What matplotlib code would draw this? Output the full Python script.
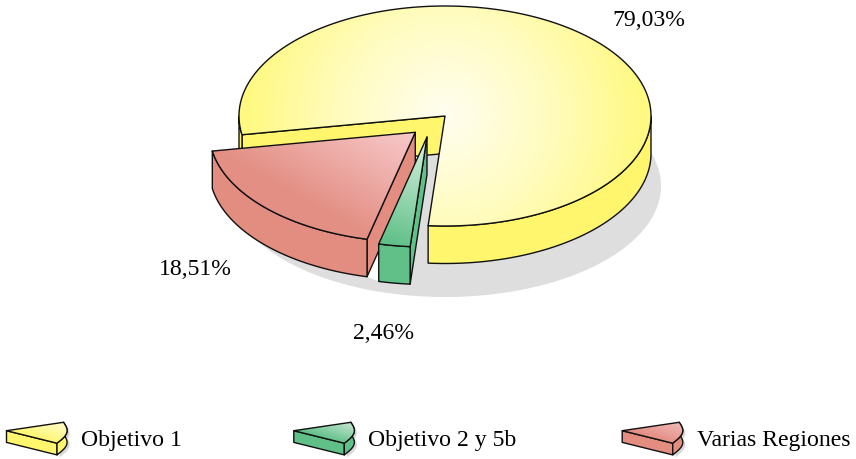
import numpy as np
import matplotlib
matplotlib.use("Agg")
import matplotlib.pyplot as plt
from matplotlib.patches import PathPatch, Polygon
from matplotlib.path import Path
from matplotlib.colors import LinearSegmentedColormap

categories = ["Objetivo 1", "Objetivo 2 y 5b", "Varias Regiones"]
values = [79.03, 2.46, 18.51]
value_labels = ["79,03%", "2,46%", "18,51%"]

W, H = 856, 459
fig = plt.figure(figsize=(W / 100, H / 100), dpi=100)
ax = fig.add_axes([0, 0, 1, 1])
ax.set_xlim(0, W)
ax.set_ylim(H, 0)
ax.axis("off")
plt.rcParams["font.family"] = ["Liberation Serif"]

RX, RY, DEPTH = 206, 110, 37.5
LW = 1.0
EDGE = "#111111"
START = 265.3  # angle of the cut between the green and yellow slices

# angular spans, derived from the values (clockwise from START: green, red, yellow)
g_hi = START
g_lo = g_hi - values[1] * 3.6
r_hi = g_lo
r_lo = r_hi - values[2] * 3.6
y_hi = r_lo + 360
y_lo = START

C_Y = (445, 116)
C_R = (415.3, 132.3)
C_G = (427, 137)

YEL, GRN, RED = "#FFF66E", "#60C088", "#E38C80"


def pt(c, a, rx=RX, ry=RY):
    t = np.radians(a)
    return np.array([c[0] + rx * np.cos(t), c[1] - ry * np.sin(t)])


def arc(c, a0, a1, n=120, rx=RX, ry=RY):
    t = np.radians(np.linspace(a0, a1, n))
    return np.column_stack([c[0] + rx * np.cos(t), c[1] - ry * np.sin(t)])


def poly(pts, fc, z, ec=EDGE, lw=LW):
    p = Polygon(pts, closed=True, fc=fc, ec=ec, lw=lw, zorder=z, joinstyle="round")
    ax.add_patch(p)
    return p


def down(pts, d=DEPTH):
    return np.asarray(pts) + np.array([0, d])


def outer_wall(c, a0, a1, fc, z):
    a = arc(c, a0, a1)
    poly(np.vstack([a, down(a)[::-1]]), fc, z)


def radial_wall(c, a, fc, z):
    p0 = np.array(c, float)
    p1 = pt(c, a)
    poly([p0, p1, down(p1), down(p0)], fc, z)


def gradient_fill(pts, cmap_cols, z, start=None, end=None, radial=None, res=2):
    pts = np.asarray(pts)
    x0, y0 = pts.min(0) - 2
    x1, y1 = pts.max(0) + 2
    xs = np.arange(x0, x1 + res, res)
    ys = np.arange(y0, y1 + res, res)
    X, Y = np.meshgrid(xs, ys)
    if radial is not None:
        cx, cy, rx, ry = radial
        T = np.clip(np.hypot((X - cx) / rx, (Y - cy) / ry), 0, 1)
    else:
        s = np.array(start, float)
        e = np.array(end, float)
        d = e - s
        T = np.clip(((X - s[0]) * d[0] + (Y - s[1]) * d[1]) / (d @ d), 0, 1)
    cmap = LinearSegmentedColormap.from_list("g", cmap_cols)
    im = ax.imshow(T, extent=[xs[0], xs[-1], ys[-1], ys[0]], cmap=cmap, vmin=0, vmax=1,
                   aspect="auto", zorder=z, interpolation="bilinear")
    clip = PathPatch(Path(np.vstack([pts, pts[:1]])), transform=ax.transData, fc="none", ec="none")
    ax.add_patch(clip)
    im.set_clip_path(clip)
    ax.add_patch(Polygon(pts, closed=True, fc="none", ec=EDGE, lw=LW, zorder=z + 0.1, joinstyle="round"))


# ---- shadow: an ellipse, with the gap between red and green left white
S_C = (445, 186)
S_RX, S_RY = 216, 111
r_corner = down(pt(C_R, r_hi))
g_corner = down(pt(C_G, g_lo))
poly(arc(S_C, 0, 360, 300, S_RX, S_RY), "#DEDEDE", 1, ec="none", lw=0)
poly([r_corner, C_R, C_G, g_corner], "white", 1.1, ec="none", lw=0)

# ---- yellow slice
radial_wall(C_Y, y_hi, YEL, 2)
outer_wall(C_Y, 180, y_hi - 360, YEL, 2.1)
outer_wall(C_Y, y_lo, 360, YEL, 2.1)
y_top = np.vstack([[C_Y], arc(C_Y, y_lo, y_hi, 300)])
gradient_fill(y_top, ["#FFFEF0", "#FFFCC0", "#FFF97E"], 3, radial=(C_Y[0], C_Y[1], RX, RX))

# ---- red slice
radial_wall(C_R, r_hi, RED, 4)
outer_wall(C_R, r_lo, r_hi, RED, 4.1)
r_top = np.vstack([[C_R], arc(C_R, r_lo, r_hi)])
gradient_fill(r_top, ["#F8C9CA", "#E38F84"], 5, start=C_R, end=(359, 232))

# ---- green slice
radial_wall(C_G, g_hi, GRN, 6)
outer_wall(C_G, g_lo, g_hi, GRN, 6.1)
g_top = np.vstack([[C_G], arc(C_G, g_lo, g_hi, 20)])
gradient_fill(g_top, ["#D2EEDC", "#60C088"], 7, start=(425, 145), end=(393, 245), res=1)

# ---- value labels
tkw = dict(fontsize=17.1, color="black", family="Liberation Serif", zorder=10)
ax.text(612, 26, value_labels[0], ha="left", va="baseline", **tkw)
ax.text(353, 339, value_labels[1], ha="left", va="baseline", **tkw)
ax.text(159, 275, value_labels[2], ha="left", va="baseline", **tkw)

# ---- legend
leg_x = [0, 287.3, 615.7]
leg_text_x = [81, 368, 697]
leg_wall = [YEL, GRN, RED]
leg_top = [["#FFFDD0", "#FFF66E"], ["#CDE9D6", "#60C088"], ["#F3BDBC", "#E38C80"]]
for dx, tx, name, wc, tc in zip(leg_x, leg_text_x, categories, leg_wall, leg_top):
    A = np.array([6.5 + dx, 430.7])
    B = np.array([63.5 + dx, 422.3])
    Cc = np.array([57 + dx, 443.2])
    t = np.linspace(0, 1, 24)
    bulge = np.column_stack([
        B[0] + (Cc[0] - B[0]) * t + 6.5 * np.sin(np.pi * t),
        B[1] + (Cc[1] - B[1]) * t,
    ])
    h = 11.7
    # drop shadow
    sh_pts = np.vstack([bulge + [2.5, 2.5], down(bulge[::-1], h) + [2.5, 2.5], [Cc + [0, h + 3]]])
    poly(sh_pts, "#D8D8D8", 1, ec="none", lw=0)
    poly([A, Cc, Cc + [0, h], A + [0, h]], wc, 2)
    poly(np.vstack([bulge, down(bulge[::-1], h)]), wc, 2)
    gradient_fill(np.vstack([[A], bulge]), tc, 3, start=(B[0], B[1] - 2), end=(B[0] - 8, Cc[1] + 2), res=1)
    ax.text(tx, 446, name, ha="left", va="baseline", **tkw)

fig.savefig("out.png", dpi=100, facecolor="white")
